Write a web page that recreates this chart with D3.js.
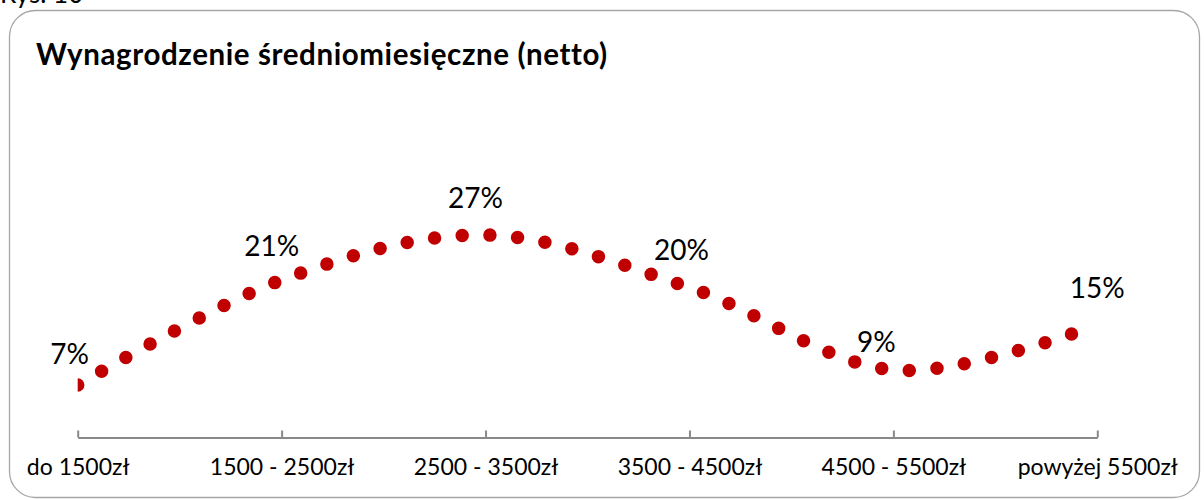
<!DOCTYPE html>
<html>
<head>
<meta charset="utf-8">
<script src="https://cdn.jsdelivr.net/npm/d3@7"></script>
<style>
  html, body { margin: 0; padding: 0; background: #ffffff; }
  svg { display: block; }
  text { font-family: "Lato", "Open Sans", sans-serif; fill: #000; }
</style>
</head>
<body>
<svg id="chart" width="1204" height="500"></svg>
<script>
// ---- data ----
const categories = ["do 1500zł", "1500 - 2500zł", "2500 - 3500zł", "3500 - 4500zł", "4500 - 5500zł", "powyżej 5500zł"];
const values = [0.07, 0.21, 0.27, 0.20, 0.09, 0.15];
const chartTitle = "Wynagrodzenie średniomiesięczne (netto)";
const figureLabel = "Rys. 10";

// ---- layout ----
const W = 1204, H = 500;
const plot = { left: 77.7, right: 1097.3, top: 212.5, bottom: 437.5 };
const labelNudge = [[-8, -21], [-10, -24], [-10, -27], [-8, -28], [-17, -18], [0, -27]];

const svg = d3.select("#chart");

// frame
svg.append("rect")
  .attr("x", 9.5).attr("y", 10.5)
  .attr("width", 1190).attr("height", 487)
  .attr("rx", 26).attr("ry", 26)
  .attr("fill", "#fff")
  .attr("stroke", "#a6a6a6")
  .attr("stroke-width", 1.3);

svg.append("text")
  .attr("x", 0).attr("y", 3)
  .attr("font-size", 26)
  .text(figureLabel);

svg.append("text")
  .attr("x", 36).attr("y", 65)
  .attr("font-size", 29.5)
  .attr("letter-spacing", 0.6)
  .attr("font-weight", "bold")
  .text(chartTitle);

const x = d3.scalePoint().domain(categories).range([plot.left, plot.right]).padding(0);
const y = d3.scaleLinear().domain([0, 0.30]).range([plot.bottom, plot.top]);

// axis
const axis = d3.axisBottom(x).tickSizeInner(-7).tickSizeOuter(0).tickPadding(21);
const gAxis = svg.append("g")
  .attr("transform", `translate(0,${plot.bottom})`)
  .call(axis);
gAxis.select(".domain").attr("stroke", "#898989").attr("stroke-width", 2);
gAxis.selectAll(".tick line").attr("stroke", "#898989").attr("stroke-width", 2);
gAxis.selectAll(".tick text")
  .attr("font-size", 23)
  .attr("font-family", "Lato, 'Open Sans', sans-serif")
  .attr("fill", "#000");

// clip
svg.append("clipPath").attr("id", "plotClip")
  .append("rect")
  .attr("x", plot.left).attr("y", 0)
  .attr("width", plot.right - plot.left + 20).attr("height", H);

const data = categories.map((c, i) => ({ c, v: values[i] }));

const line = d3.line()
  .x(d => x(d.c))
  .y(d => y(d.v))
  .curve(d3.curveCardinal.tension(0));

svg.append("path")
  .datum(data)
  .attr("clip-path", "url(#plotClip)")
  .attr("d", line)
  .attr("fill", "none")
  .attr("stroke", "#C00000")
  .attr("stroke-width", 13.5)
  .attr("stroke-linecap", "round")
  .attr("stroke-dasharray", "0 27.75");

// data labels
const fmt = d3.format(".0%");
svg.append("g").selectAll("text")
  .data(data)
  .join("text")
  .attr("x", (d, i) => x(d.c) + labelNudge[i][0])
  .attr("y", (d, i) => y(d.v) + labelNudge[i][1])
  .attr("text-anchor", "middle")
  .attr("font-size", 28)
  .text(d => fmt(d.v));
</script>
</body>
</html>
